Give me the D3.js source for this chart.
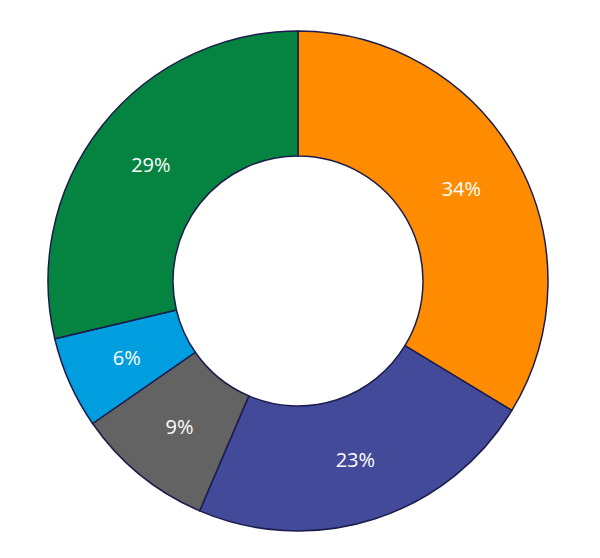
<!DOCTYPE html>
<html>
<head>
<meta charset="utf-8">
<script src="https://cdn.jsdelivr.net/npm/d3@7"></script>
<style>
	body { margin: 0; background: #fff; }
	.label { font-family: 'Open Sans', sans-serif; font-size: 20px; fill: #fff; }
</style>
</head>
<body>
<div id="chart"></div>
<script>
const categories = ['A', 'B', 'C', 'D', 'E'];
const values = [34, 23, 9, 6, 29];
const colors = ['#ff8c00', '#434a9a', '#636363', '#009ddf', '#058340'];

const width = 600;
const height = 558;
const cx = 298;
const cy = 281;
const outerRadius = 250;
const innerRadius = 125;

const svg = d3
	.select('#chart')
	.append('svg')
	.attr('width', width)
	.attr('height', height);

const g = svg.append('g').attr('transform', `translate(${cx},${cy})`);

const data = categories.map((c, i) => ({ category: c, value: values[i], color: colors[i] }));

const pie = d3.pie().value((d) => d.value).sort(null);
const arc = d3.arc().innerRadius(innerRadius).outerRadius(outerRadius);

const arcs = pie(data);

g.selectAll('path')
	.data(arcs)
	.join('path')
	.attr('d', arc)
	.attr('fill', (d) => d.data.color)
	.attr('stroke', '#1c1c4c')
	.attr('stroke-width', 1.5);

g.selectAll('.label')
	.data(arcs)
	.join('text')
	.attr('class', 'label')
	.attr('text-anchor', 'middle')
	.attr('dominant-baseline', 'central')
	.attr('transform', (d) => `translate(${arc.centroid(d)})`)
	.text((d) => d.data.value + '%');
</script>
</body>
</html>
